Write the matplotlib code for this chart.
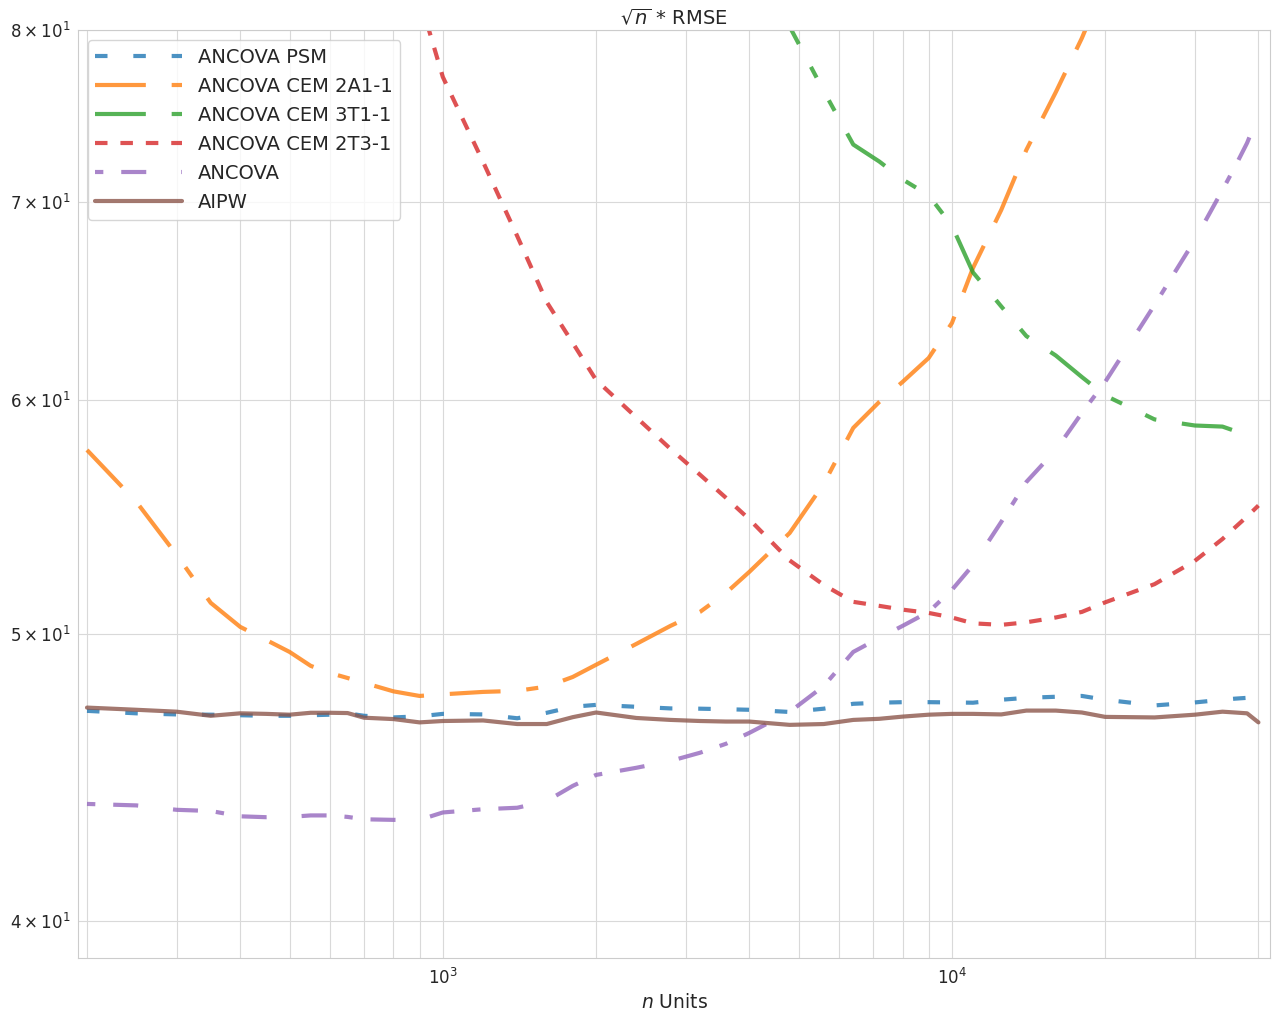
import numpy as np
import matplotlib
matplotlib.use("Agg")
import matplotlib.pyplot as plt
import seaborn as sns

nan = np.nan

# sample sizes
n_units = [200, 250, 300, 350, 400, 450, 500, 550, 600, 650,
           700, 800, 900, 1000, 1200, 1400, 1600, 1800, 2000, 2400,
           2800, 3200, 3600, 4000, 4800, 5600, 6400, 7200, 8000, 9000,
           10000, 11000, 12500, 14000, 16000, 18000, 20000, 25000, 30000, 34000,
           36000, 38000, 40000]

# sqrt(n) * RMSE per estimator
ancova_psm = [47.10, 47.01, 46.97, 46.96, 46.94, 46.92, 46.92, 46.94, 46.96, 47.01,
              46.92, 46.86, 46.90, 46.99, 46.97, 46.83, 47.03, 47.25, 47.32, 47.25,
              47.19, 47.18, 47.16, 47.14, 47.06, 47.18, 47.36, 47.40, 47.42, 47.42,
              47.41, 47.40, 47.51, 47.58, 47.62, 47.65, 47.51, 47.30, 47.41, 47.51,
              47.55, 47.58, 47.29]
cem_2a1 = [57.70, 55.42, 53.18, 51.23, 50.28, 49.77, 49.31, 48.78, 48.51, 48.32,
           48.14, 47.82, 47.65, 47.71, 47.80, 47.84, 48.00, 48.36, 48.82, 49.62,
           50.32, 50.87, 51.63, 52.48, 54.09, 56.20, 58.70, 59.90, 60.84, 61.98,
           63.69, 66.48, 69.55, 72.87, 76.23, 79.50, 83.0, nan, nan, nan,
           nan, nan, nan]
cem_3t1 = [nan, nan, nan, nan, nan, nan, nan, nan, nan, nan,
           nan, nan, nan, nan, nan, nan, nan, nan, nan, nan,
           nan, nan, nan, 85.2, 80.21, 76.29, 73.18, 72.22, 71.22, 70.35,
           68.70, 66.25, 64.52, 63.05, 62.10, 61.07, 60.20, 59.09, 58.81, 58.76,
           58.56, nan, nan]
cem_2t3 = [nan, nan, nan, nan, nan, nan, nan, nan, nan, nan,
           nan, nan, 82.0, 77.13, 72.19, 68.15, 64.74, 62.71, 60.93, 59.18,
           57.75, 56.60, 55.59, 54.67, 52.95, 51.95, 51.27, 51.11, 50.96, 50.83,
           50.65, 50.42, 50.36, 50.46, 50.65, 50.87, 51.25, 51.98, 52.93, 53.84,
           54.33, 54.79, 55.26]
ancova = [43.81, 43.76, 43.61, 43.57, 43.39, 43.36, 43.37, 43.42, 43.42, 43.37,
          43.29, 43.27, 43.27, 43.52, 43.63, 43.68, 43.91, 44.43, 44.81, 45.06,
          45.30, 45.59, 45.91, 46.30, 47.06, 48.02, 49.31, 49.85, 50.32, 50.87,
          51.75, 52.76, 54.56, 56.28, 57.70, 59.39, 60.84, 64.59, 67.94, 70.64,
          71.94, 73.27, 74.88]
aipw = [47.22, 47.14, 47.07, 46.92, 47.01, 46.99, 46.96, 47.03, 47.03, 47.02,
        46.85, 46.80, 46.68, 46.73, 46.75, 46.62, 46.62, 46.87, 47.04, 46.84,
        46.77, 46.73, 46.71, 46.71, 46.59, 46.62, 46.77, 46.81, 46.89, 46.96,
        46.99, 46.99, 46.97, 47.11, 47.11, 47.04, 46.88, 46.86, 46.96, 47.07,
        47.04, 47.01, 46.68]

sns.set_style("whitegrid", {"grid.color": ".85"})
plt.rcParams['font.family'] = ['DejaVu Sans']

fig, ax = plt.subplots(figsize=(12.76, 10.11), dpi=100)
fig.subplots_adjust(left=0.0611, right=0.9953, top=0.9703, bottom=0.0524)

series = [
    ("ANCOVA PSM", ancova_psm, "tab:blue", (3, 6.2)),
    ("ANCOVA CEM 2A1-1", cem_2a1, "tab:orange", (12.2, 6.2, 12.2, 6.2, 2.9, 6.2)),
    ("ANCOVA CEM 3T1-1", cem_3t1, "tab:green", (12.2, 6.2, 2.9, 6.2, 2.9, 6.2)),
    ("ANCOVA CEM 2T3-1", cem_2t3, "tab:red", (3, 3.1)),
    ("ANCOVA", ancova, "tab:purple", (2, 4.3, 6, 8.4, 6, 4.3)),
    ("AIPW", aipw, "tab:brown", None),
]
for label, ys, color, dash in series:
    line, = ax.plot(n_units, ys, color=color, lw=3, alpha=0.8, label=label)
    if dash:
        line.set_dashes(dash)

ax.set_xscale("log")
ax.set_yscale("log")
ax.set_xlim(192, 42150)
ax.set_ylim(38.86, 80)
ax.grid(True, which="both")
ax.tick_params(which="both", labelsize=12)

ax.set_title(r"$\sqrt{n}$ * RMSE", fontsize=14, pad=4)
ax.set_xlabel(r"$n$ Units", fontsize=13.5)
ax.legend(loc="upper left", fontsize=14, handlelength=4.47, labelspacing=0.52)

fig.savefig("out.png")
